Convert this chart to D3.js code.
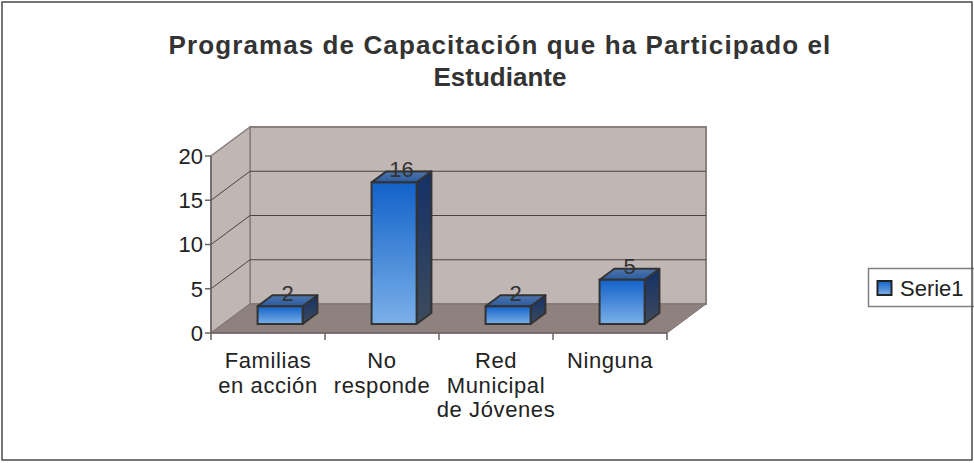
<!DOCTYPE html>
<html>
<head>
<meta charset="utf-8">
<script src="https://cdn.jsdelivr.net/npm/d3@7"></script>
<style>
  html, body { margin: 0; padding: 0; background: #fff; }
  svg { display: block; font-family: 'Liberation Sans', Arial, sans-serif; }
</style>
</head>
<body>
<div id="chart"></div>
<script>
const categories = ['Familias en acción', 'No responde', 'Red Municipal de Jóvenes', 'Ninguna'];
const categoryLines = [['Familias', 'en acción'], ['No', 'responde'], ['Red', 'Municipal', 'de Jóvenes'], ['Ninguna']];
const values = [2, 16, 2, 5];
const yTicks = [0, 5, 10, 15, 20];
const seriesName = 'Serie1';
const titleLines = ['Programas de Capacitación que ha Participado el', 'Estudiante'];

const width = 974;
const height = 463;
const plotLeft = 211;
const plotRight = 667;
const plotTop = 156;
const plotBottom = 333;
const depthX = 39;
const depthY = 29;
const z0 = 0.31;
const z1 = 0.69;

const svg = d3.select('#chart')
  .append('svg')
  .attr('width', width)
  .attr('height', height)
  .attr('viewBox', `0 0 ${width} ${height}`);

const x = d3.scaleBand()
  .domain(categories)
  .range([plotLeft, plotRight])
  .padding(0);
const y = d3.scaleLinear()
  .domain([0, 20])
  .range([plotBottom, plotTop]);

// projection into the 3d box
const px = (vx, z) => vx + z * depthX;
const py = (v, z) => y(v) - z * depthY;
const pt = (vx, v, z) => [px(vx, z), py(v, z)].join(',');

// gradients
const defs = svg.append('defs');
function grad(id, stops) {
  const g = defs.append('linearGradient')
    .attr('id', id)
    .attr('x1', 0).attr('y1', 0).attr('x2', 0).attr('y2', 1);
  stops.forEach((s) => g.append('stop').attr('offset', s[0]).attr('stop-color', s[1]));
}
grad('front', [[0, '#1262c9'], [1, '#7bb0e8']]);
grad('side', [[0, '#143068'], [1, '#3d4b5c']]);
grad('top', [[0, '#4f76ab'], [1, '#2a5aa0']]);

svg.append('rect')
   .attr('x', 0).attr('y', 0)
   .attr('width', width).attr('height', height)
   .attr('fill', '#fff');

// walls
const wallFill = '#c0b6b3';
const wallStroke = '#8a807e';
svg.append('polygon')
   .attr('points', [pt(plotLeft, 0, 1), pt(plotRight, 0, 1), pt(plotRight, 20, 1), pt(plotLeft, 20, 1)].join(' '))
   .attr('fill', wallFill)
   .attr('stroke', wallStroke)
   .attr('stroke-width', 2);
svg.append('polygon')
   .attr('points', [pt(plotLeft, 0, 0), pt(plotLeft, 0, 1), pt(plotLeft, 20, 1), pt(plotLeft, 20, 0)].join(' '))
   .attr('fill', wallFill)
   .attr('stroke', wallStroke)
   .attr('stroke-width', 1.5);

// grid lines
const grid = svg.append('g');
yTicks.filter((t) => t > 0 && t < 20).forEach((t) => {
  grid.append('path')
      .attr('d', `M${pt(plotLeft, t, 0)}L${pt(plotLeft, t, 1)}L${pt(plotRight, t, 1)}`)
      .attr('fill', 'none')
      .attr('stroke', '#4a4444')
      .attr('stroke-width', 1);
});

// floor
svg.append('polygon')
   .attr('points', [pt(plotLeft, 0, 0), pt(plotRight, 0, 0), pt(plotRight, 0, 1), pt(plotLeft, 0, 1)].join(' '))
   .attr('fill', '#8e817e')
   .attr('stroke', '#7f7472')
   .attr('stroke-width', 1);

// axes
const axisColor = '#6b6361';
svg.append('path')
   .attr('d', `M${plotLeft},${plotTop}V${plotBottom}H${plotRight}`)
   .attr('fill', 'none')
   .attr('stroke', axisColor)
   .attr('stroke-width', 1.5);

const yAxis = svg.append('g');
yAxis.selectAll('line')
     .data(yTicks)
     .enter()
     .append('line')
     .attr('x1', plotLeft - 6).attr('x2', plotLeft)
     .attr('y1', (d) => y(d)).attr('y2', (d) => y(d))
     .attr('stroke', axisColor)
     .attr('stroke-width', 1.5);
yAxis.selectAll('text')
     .data(yTicks)
     .enter()
     .append('text')
     .attr('x', plotLeft - 8)
     .attr('y', (d) => y(d))
     .attr('dy', '0.36em')
     .attr('text-anchor', 'end')
     .attr('font-size', 22)
     .attr('fill', '#222')
     .text((d) => d);

const xTicks = categories.map((c) => x(c)).concat([plotRight]);
svg.append('g').selectAll('line')
   .data(xTicks)
   .enter()
   .append('line')
   .attr('x1', (d) => d).attr('x2', (d) => d)
   .attr('y1', plotBottom).attr('y2', plotBottom + 7)
   .attr('stroke', axisColor)
   .attr('stroke-width', 1.5);

const catLabels = svg.append('g');
categories.forEach((c, i) => {
  const t = catLabels.append('text')
    .attr('text-anchor', 'middle')
    .attr('font-size', 22)
    .attr('letter-spacing', 0.6)
    .attr('fill', '#222');
  categoryLines[i].forEach((line, j) => {
    t.append('tspan')
     .attr('x', x(c) + x.bandwidth() / 2)
     .attr('y', 368 + j * 24.5)
     .text(line);
  });
});

// bars
const barWidth = x.bandwidth() * 0.395;
const bars = svg.append('g')
  .selectAll('g.bar')
  .data(values.map((v, i) => ({ cat: categories[i], v })))
  .enter()
  .append('g')
  .attr('class', 'bar');

const barLeft = (d) => x(d.cat) + (x.bandwidth() - barWidth) / 2;
const barRight = (d) => barLeft(d) + barWidth;

bars.append('polygon')
    .attr('points', (d) => [pt(barRight(d), 0, z0), pt(barRight(d), 0, z1), pt(barRight(d), d.v, z1), pt(barRight(d), d.v, z0)].join(' '))
    .attr('fill', 'url(#side)')
    .attr('stroke', '#333')
    .attr('stroke-width', 2)
    .attr('stroke-linejoin', 'round');
bars.append('polygon')
    .attr('points', (d) => [pt(barLeft(d), d.v, z0), pt(barRight(d), d.v, z0), pt(barRight(d), d.v, z1), pt(barLeft(d), d.v, z1)].join(' '))
    .attr('fill', 'url(#top)')
    .attr('stroke', '#333')
    .attr('stroke-width', 2)
    .attr('stroke-linejoin', 'round');
bars.append('rect')
    .attr('x', (d) => px(barLeft(d), z0))
    .attr('y', (d) => py(d.v, z0))
    .attr('width', barWidth)
    .attr('height', (d) => py(0, z0) - py(d.v, z0))
    .attr('fill', 'url(#front)')
    .attr('stroke', '#333')
    .attr('stroke-width', 2);

bars.append('text')
    .attr('x', (d) => px(x(d.cat) + x.bandwidth() / 2, 0.5))
    .attr('y', (d) => py(d.v, 0.5))
    .attr('text-anchor', 'middle')
    .attr('font-size', 22)
    .attr('fill', '#333')
    .text((d) => d.v);

// legend
const legend = svg.append('g');
legend.append('rect')
      .attr('x', 868.5).attr('y', 268.5)
      .attr('width', 106).attr('height', 38)
      .attr('fill', '#fff')
      .attr('stroke', '#808080')
      .attr('stroke-width', 1.5);
legend.append('rect')
      .attr('x', 877.5).attr('y', 281)
      .attr('width', 14).attr('height', 14)
      .attr('fill', 'url(#front)')
      .attr('stroke', '#222')
      .attr('stroke-width', 2);
legend.append('text')
      .attr('x', 900).attr('y', 295.5)
      .attr('font-size', 22)
      .attr('fill', '#222')
      .text(seriesName);

// title
const title = svg.append('text')
  .attr('text-anchor', 'middle')
  .attr('font-size', 26)
  .attr('font-weight', 'bold')
  .attr('fill', '#333');
titleLines.forEach((line, i) => {
  title.append('tspan')
       .attr('x', 500)
       .attr('y', 54 + i * 32)
       .attr('letter-spacing', i === 0 ? 1.1 : 0)
       .text(line);
});

// chart area border
svg.append('rect')
   .attr('x', 2).attr('y', 2)
   .attr('width', 970).attr('height', 458)
   .attr('fill', 'none')
   .attr('stroke', '#4a4a4a')
   .attr('stroke-width', 1.5);
</script>
</body>
</html>
